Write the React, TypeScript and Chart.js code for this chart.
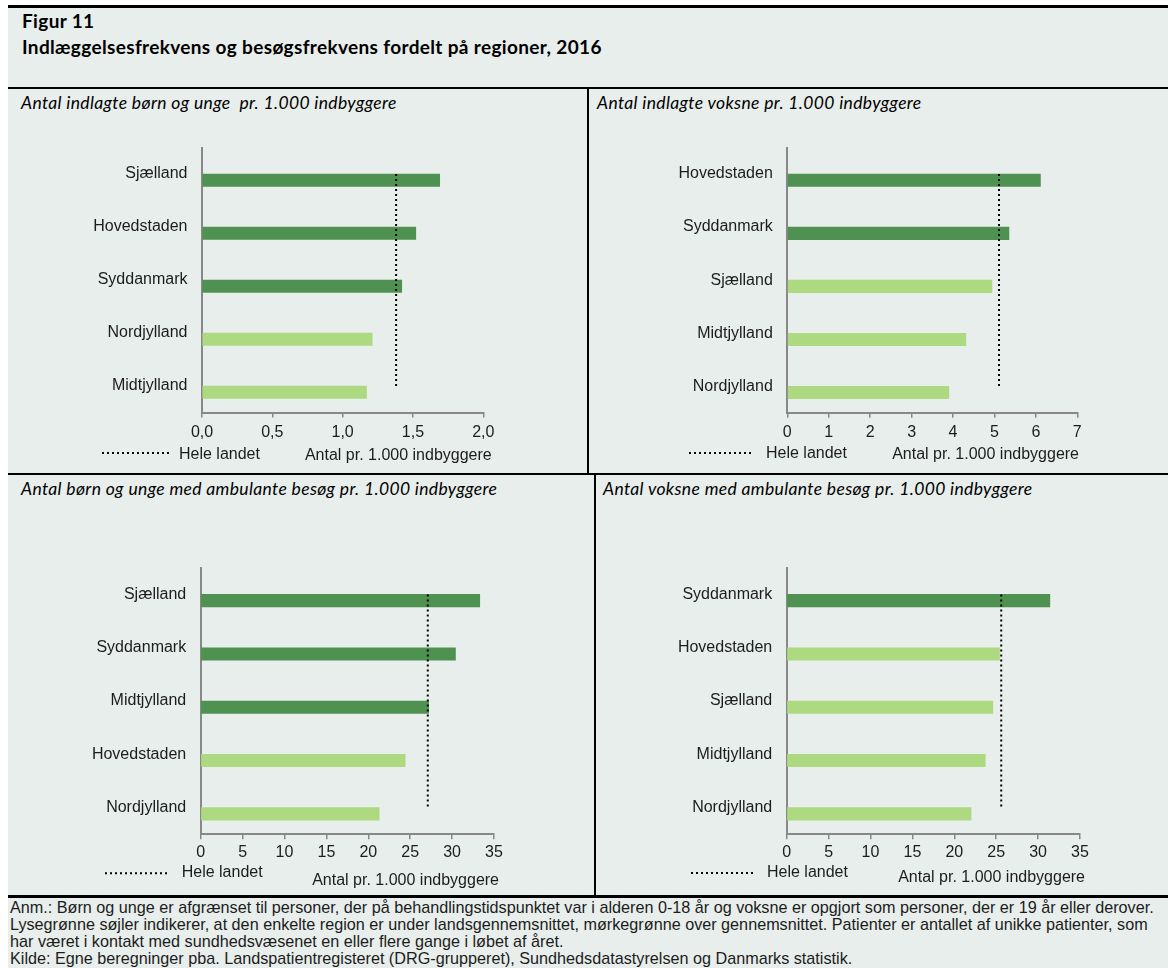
import React, { useEffect, useRef } from 'react';
import { Chart, registerables } from 'chart.js';

Chart.register(...registerables);

// ---------- DATA ----------
const p1Categories = ['Sjælland', 'Hovedstaden', 'Syddanmark', 'Nordjylland', 'Midtjylland'];
const p1Values = [1.69, 1.52, 1.42, 1.21, 1.17];
const p1Average = 1.38;
const p1AxisMax = 2;
const p1AxisStep = 0.5;

const p2Categories = ['Hovedstaden', 'Syddanmark', 'Sjælland', 'Midtjylland', 'Nordjylland'];
const p2Values = [6.11, 5.35, 4.94, 4.31, 3.9];
const p2Average = 5.11;
const p2AxisMax = 7;
const p2AxisStep = 1;

const p3Categories = ['Sjælland', 'Syddanmark', 'Midtjylland', 'Hovedstaden', 'Nordjylland'];
const p3Values = [33.3, 30.4, 27.2, 24.4, 21.3];
const p3Average = 27.1;
const p3AxisMax = 35;
const p3AxisStep = 5;

const p4Categories = ['Syddanmark', 'Hovedstaden', 'Sjælland', 'Midtjylland', 'Nordjylland'];
const p4Values = [31.4, 25.4, 24.6, 23.7, 22.0];
const p4Average = 25.6;
const p4AxisMax = 35;
const p4AxisStep = 5;

const panelTitles = [
  'Antal indlagte børn og unge  pr. 1.000 indbyggere',
  'Antal indlagte voksne pr. 1.000 indbyggere',
  'Antal børn og unge med ambulante besøg pr. 1.000 indbyggere',
  'Antal voksne med ambulante besøg pr. 1.000 indbyggere',
];
const figureLabel = 'Figur 11';
const figureTitle = 'Indlæggelsesfrekvens og besøgsfrekvens fordelt på regioner, 2016';
const legendLabel = 'Hele landet';
const axisTitle = 'Antal pr. 1.000 indbyggere';
const footnoteLines = [
  'Anm.: Børn og unge er afgrænset til personer, der på behandlingstidspunktet var i alderen 0-18 år og voksne er opgjort som personer, der er 19 år eller derover.',
  'Lysegrønne søjler indikerer, at den enkelte region er under landsgennemsnittet, mørkegrønne over gennemsnittet. Patienter er antallet af unikke patienter, som',
  'har været i kontakt med sundhedsvæsenet en eller flere gange i løbet af året.',
  'Kilde: Egne beregninger pba. Landspatientregisteret (DRG-grupperet), Sundhedsdatastyrelsen og Danmarks statistik.',
];

// ---------- STYLE ----------
const DARK = '#4F9150';
const LIGHT = '#ADDA80';
const BG = '#E8EEEB';
const AXIS = '#888888';
const TEXT = '#1c1c1c';
const CHART_FONT = '"Liberation Sans", Arial, Helvetica, sans-serif';
const TITLE_FONT = 'Lato, "Open Sans", sans-serif';

type Layout = {
  canvas: { left: number; top: number; width: number; height: number };
  area: { left: number; right: number; top: number; bottom: number };
  legendLine: [number, number, number];
  legendText: [number, number];
  axisTitle: [number, number];
  tickPad: number;
};

type PanelProps = {
  categories: string[];
  values: number[];
  average: number;
  axisMax: number;
  axisStep: number;
  decimals: number;
  layout: Layout;
};

function BarPanel({ categories, values, average, axisMax, axisStep, decimals, layout }: PanelProps) {
  const ref = useRef<HTMLCanvasElement | null>(null);
  useEffect(() => {
    const c = layout.canvas;
    const a = layout.area;
    const xAxisHeight = 30;
    const extras = {
      id: 'panelExtras',
      afterDraw(chart: any) {
        const ctx = chart.ctx;
        ctx.save();
        ctx.strokeStyle = '#000';
        ctx.lineWidth = 2;
        ctx.setLineDash([2, 3]);
        ctx.beginPath();
        ctx.moveTo(layout.legendLine[0] - c.left, layout.legendLine[2] - c.top);
        ctx.lineTo(layout.legendLine[1] - c.left, layout.legendLine[2] - c.top);
        ctx.stroke();
        ctx.setLineDash([]);
        ctx.font = `16px ${CHART_FONT}`;
        ctx.fillStyle = TEXT;
        ctx.textBaseline = 'middle';
        ctx.textAlign = 'left';
        ctx.fillText(chart.data.datasets[0].label, layout.legendText[0] - c.left, layout.legendText[1] - c.top);
        ctx.textAlign = 'right';
        ctx.fillText(axisTitle, layout.axisTitle[0] - c.left, layout.axisTitle[1] - c.top);
        ctx.restore();
      },
    };
    const chart = new Chart(ref.current as HTMLCanvasElement, {
      type: 'bar',
      data: {
        labels: categories,
        datasets: [
          {
            type: 'line',
            label: legendLabel,
            data: categories.map(() => average),
            indexAxis: 'y',
            borderColor: '#000',
            borderWidth: 2,
            borderDash: [2, 3],
            pointRadius: 0,
            fill: false,
            order: 0,
          } as any,
          {
            type: 'bar',
            label: '',
            data: categories.map(() => null),
            barThickness: 12.5,
            order: 1,
          } as any,
          {
            type: 'bar',
            label: 'Region',
            data: values,
            backgroundColor: values.map((v) => (v > average ? DARK : LIGHT)),
            borderWidth: 0,
            barThickness: 12.5,
            order: 1,
          } as any,
        ],
      },
      options: {
        indexAxis: 'y',
        responsive: false,
        animation: false,
        layout: {
          padding: {
            left: 0,
            top: a.top - c.top,
            right: c.left + c.width - a.right,
            bottom: c.top + c.height - a.bottom - xAxisHeight,
          },
        },
        plugins: { legend: { display: false }, tooltip: { enabled: false } },
        scales: {
          x: {
            type: 'linear',
            min: 0,
            max: axisMax,
            ticks: {
              stepSize: axisStep,
              padding: layout.tickPad,
              color: TEXT,
              font: { family: CHART_FONT, size: 16 },
              callback: (v: any) => Number(v).toFixed(decimals).replace('.', ','),
            },
            grid: { display: true, drawOnChartArea: false, drawTicks: true, tickLength: 5, color: AXIS, lineWidth: 1.5 },
            border: { display: true, color: AXIS, width: 2 },
            afterFit: (s: any) => {
              s.height = xAxisHeight;
            },
          },
          y: {
            type: 'category',
            grid: { display: false, drawTicks: false },
            border: { display: true, color: AXIS, width: 2 },
            ticks: { padding: 14.5, color: TEXT, font: { family: CHART_FONT, size: 16 } },
            afterFit: (s: any) => {
              s.width = a.left - c.left;
            },
          },
        },
      } as any,
      plugins: [extras],
    });
    return () => chart.destroy();
  }, []);
  const c = layout.canvas;
  return (
    <canvas
      ref={ref}
      width={c.width}
      height={c.height}
      style={{ position: 'absolute', left: c.left, top: c.top, width: c.width, height: c.height }}
    />
  );
}

function Txt({ x, cy, size, children, style }: any) {
  return (
    <div
      style={{
        position: 'absolute',
        left: x,
        top: cy - size * 0.6,
        fontSize: size,
        lineHeight: `${size * 1.2}px`,
        whiteSpace: 'pre',
        color: '#000',
        ...style,
      }}
    >
      {children}
    </div>
  );
}

function Rule({ l, t, w, h }: any) {
  return <div style={{ position: 'absolute', left: l, top: t, width: w, height: h, background: '#000' }} />;
}

const layouts: Layout[] = [
  {
    canvas: { left: 10, top: 118, width: 570, height: 355 },
    area: { left: 202, right: 483.3, top: 147.5, bottom: 412.5 },
    legendLine: [102, 172, 453],
    legendText: [179, 454.5],
    axisTitle: [491.7, 455.7],
    tickPad: 5.5,
  },
  {
    canvas: { left: 592, top: 118, width: 570, height: 355 },
    area: { left: 787.3, right: 1077.3, top: 147.5, bottom: 412.8 },
    legendLine: [689, 753, 453],
    legendText: [766, 454],
    axisTitle: [1079, 455],
    tickPad: 5.5,
  },
  {
    canvas: { left: 10, top: 540, width: 580, height: 355 },
    area: { left: 200.7, right: 494, top: 567.8, bottom: 834.2 },
    legendLine: [105, 169, 873.3],
    legendText: [181.7, 873],
    axisTitle: [499, 880.7],
    tickPad: 4,
  },
  {
    canvas: { left: 599, top: 540, width: 565, height: 355 },
    area: { left: 786.7, right: 1080, top: 567.8, bottom: 834.2 },
    legendLine: [691, 755, 873],
    legendText: [767, 873],
    axisTitle: [1085, 878],
    tickPad: 4,
  },
];

const titleStyle = { fontFamily: TITLE_FONT, fontWeight: 700, letterSpacing: '0.35px' };
const panelTitleStyle = { fontFamily: TITLE_FONT, fontStyle: 'italic', letterSpacing: '0.35px' };

export default function App() {
  return (
    <div style={{ position: 'absolute', left: 0, top: 0, width: 1168, height: 968, background: '#fff', overflow: 'hidden' }}>
      <div style={{ position: 'absolute', left: 8, top: 5, width: 1160, height: 963, background: BG }} />
      <Rule l={8} t={5} w={1160} h={3} />

      <Txt x={22} cy={21} size={19} style={titleStyle}>
        {figureLabel}
      </Txt>
      <Txt x={22} cy={47} size={19} style={titleStyle}>
        {figureTitle}
      </Txt>

      <Rule l={8} t={87} w={1160} h={2} />
      <Rule l={587} t={88} w={2} h={386} />
      <Rule l={8} t={473} w={1160} h={2} />
      <Rule l={594} t={474} w={2} h={422} />
      <Rule l={8} t={895} w={1160} h={3} />

      <Txt x={21} cy={102} size={17.5} style={panelTitleStyle}>
        {panelTitles[0]}
      </Txt>
      <Txt x={597} cy={102} size={17.5} style={panelTitleStyle}>
        {panelTitles[1]}
      </Txt>
      <Txt x={21} cy={488} size={17.5} style={panelTitleStyle}>
        {panelTitles[2]}
      </Txt>
      <Txt x={603} cy={488} size={17.5} style={panelTitleStyle}>
        {panelTitles[3]}
      </Txt>

      <BarPanel categories={p1Categories} values={p1Values} average={p1Average} axisMax={p1AxisMax} axisStep={p1AxisStep} decimals={1} layout={layouts[0]} />
      <BarPanel categories={p2Categories} values={p2Values} average={p2Average} axisMax={p2AxisMax} axisStep={p2AxisStep} decimals={0} layout={layouts[1]} />
      <BarPanel categories={p3Categories} values={p3Values} average={p3Average} axisMax={p3AxisMax} axisStep={p3AxisStep} decimals={0} layout={layouts[2]} />
      <BarPanel categories={p4Categories} values={p4Values} average={p4Average} axisMax={p4AxisMax} axisStep={p4AxisStep} decimals={0} layout={layouts[3]} />

      {footnoteLines.map((line, i) => (
        <Txt key={i} x={10} cy={908 + i * 17} size={16.2} style={{ fontFamily: CHART_FONT, color: '#1c1c1c' }}>
          {line}
        </Txt>
      ))}
    </div>
  );
}
